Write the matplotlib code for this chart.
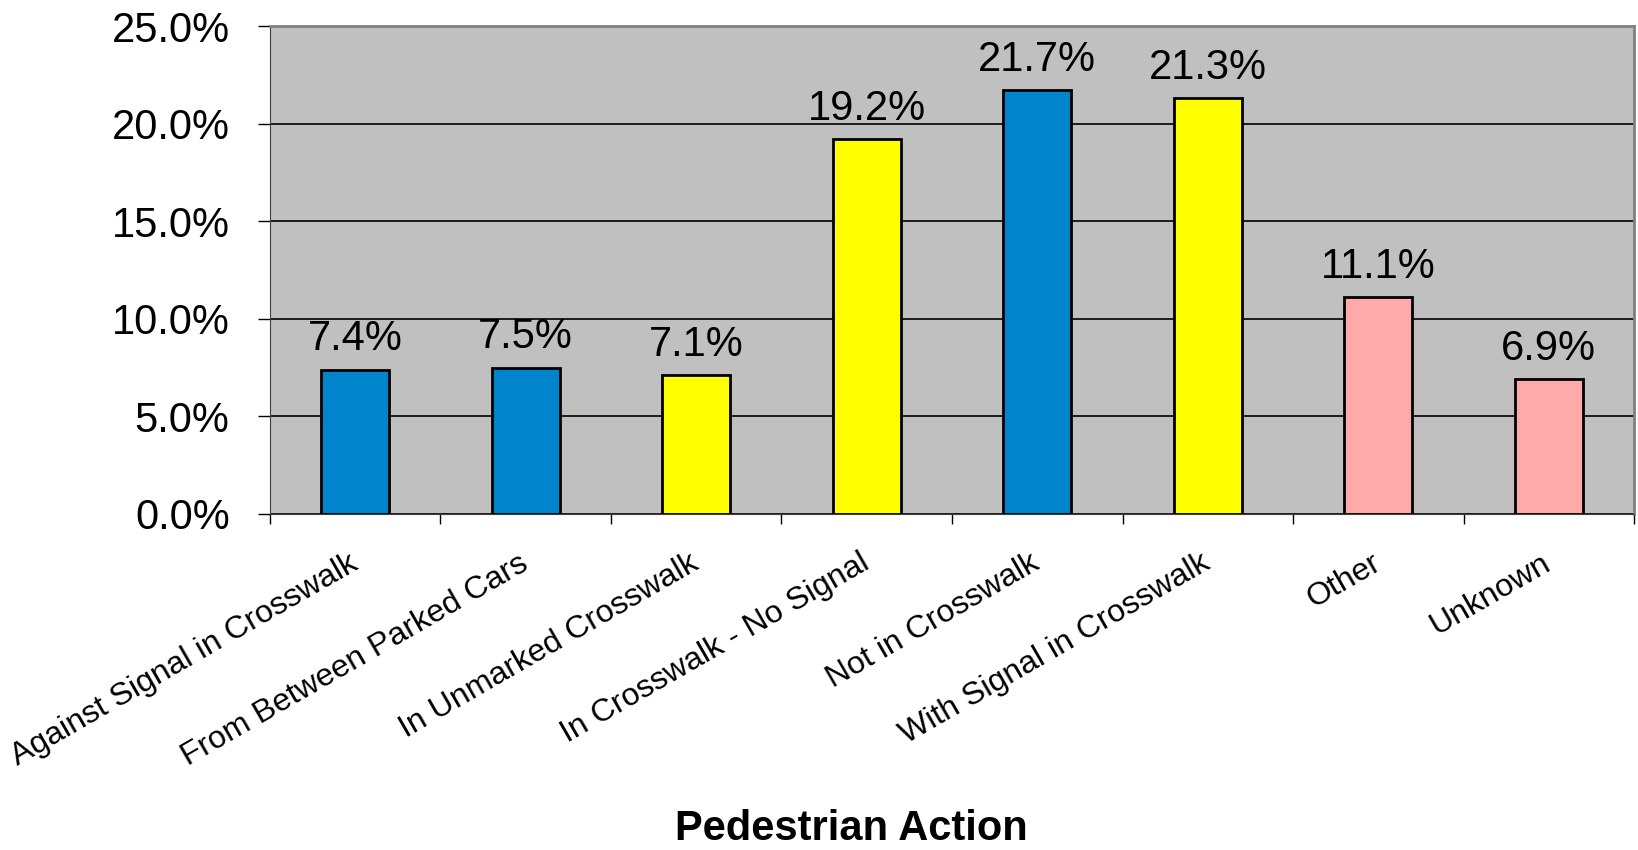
import matplotlib.pyplot as plt
import numpy as np

plt.rcParams['font.family'] = ['Liberation Sans', 'DejaVu Sans']

actions = ['Against Signal in Crosswalk', 'From Between Parked Cars',
           'In Unmarked Crosswalk', 'In Crosswalk - No Signal',
           'Not in Crosswalk', 'With Signal in Crosswalk', 'Other', 'Unknown']
share = [7.4, 7.5, 7.1, 19.2, 21.7, 21.3, 11.1, 6.9]
colors = ['#0084CC', '#0084CC', '#FFFF00', '#FFFF00',
          '#0084CC', '#FFFF00', '#FFAAAA', '#FFAAAA']

fig = plt.figure(figsize=(16.38, 8.5), dpi=100)
ax = fig.add_axes([0.1648, 0.3953, 0.8328, 0.5741])
ax.set_facecolor('#C0C0C0')

x = np.arange(len(actions))
ax.bar(x, share, width=0.4, color=colors, edgecolor='black', linewidth=2, zorder=3)

for xi, v in zip(x, share):
    ax.annotate(f'{v:.1f}%', (xi, v), xytext=(0, 14), textcoords='offset points',
                ha='center', va='baseline', fontsize=30)

ax.set_xlim(-0.5, len(actions) - 0.5)
ax.set_ylim(0, 25)
ax.set_yticks(np.arange(0, 26, 5))
ax.set_yticklabels([f'{t:.1f}%' for t in np.arange(0, 26, 5)], fontsize=30)
ax.yaxis.grid(True, color='black', linewidth=1.2, zorder=1)
ax.tick_params(axis='y', length=9, width=1, pad=20)

ax.set_xticks(x)
ax.set_xticklabels(actions, fontsize=23, rotation=30, ha='right', va='center',
                   rotation_mode='anchor')
ax.tick_params(axis='x', which='major', length=0, pad=34)
ax.set_xticks(np.arange(-0.5, len(actions)), minor=True)
ax.tick_params(axis='x', which='minor', length=7, width=1)

for side in ['top', 'right']:
    ax.spines[side].set_color('#808080')
    ax.spines[side].set_linewidth(2)
ax.spines['left'].set_color('#404040')
ax.spines['bottom'].set_color('#404040')

fig.text(0.52, 0.012, 'Pedestrian Action', ha='center', va='baseline',
         fontsize=30, fontweight='bold')

plt.savefig('out.png')
